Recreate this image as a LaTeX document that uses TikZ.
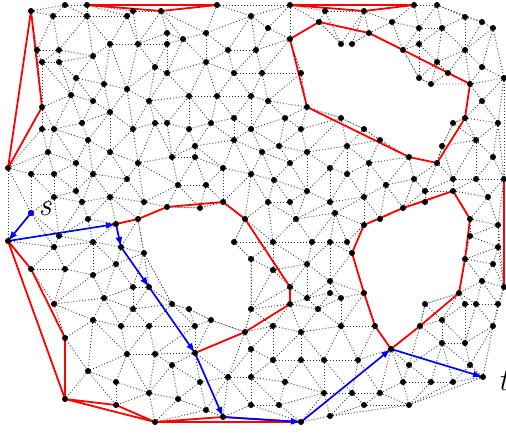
\documentclass[tikz,border=0pt]{standalone}
\usetikzlibrary{arrows.meta}
\newcount\NP \NP=0
\def\pt(#1,#2){\global\advance\NP by 1
 \expandafter\xdef\csname px\the\NP\endcsname{#1}%
 \expandafter\xdef\csname py\the\NP\endcsname{#2}}
\def\PX#1{\csname px\number#1\endcsname}
\def\PY#1{\csname py\number#1\endcsname}
% points (pixel coordinates, y downwards)
\pt(31,11)\pt(65,5)\pt(87,5)\pt(53,16)\pt(87,16)\pt(127,16)\pt(133,11)\pt(161,11)\pt(167,33)\pt(37,50)
\pt(59,50)\pt(42,62)\pt(59,62)\pt(93,56)\pt(110,44)\pt(138,44)\pt(167,44)\pt(155,67)\pt(167,73)\pt(76,78)
\pt(104,84)\pt(127,89)\pt(71,95)\pt(93,101)\pt(149,101)\pt(42,107)\pt(110,112)\pt(82,123)\pt(42,129)\pt(54,129)
\pt(133,129)\pt(155,123)\pt(167,123)\pt(88,140)\pt(48,152)\pt(110,152)\pt(76,163)\pt(138,163)\pt(8,168)\pt(31,174)
\pt(54,174)\pt(93,174)\pt(127,179)\pt(76,191)\pt(54,197)\pt(82,202)\pt(110,197)\pt(144,202)\pt(167,207)\pt(31,213)
\pt(217,5)\pt(290,5)\pt(251,16)\pt(268,28)\pt(325,11)\pt(319,22)\pt(206,33)\pt(183,39)\pt(290,39)\pt(228,50)
\pt(256,50)\pt(206,62)\pt(234,73)\pt(262,73)\pt(301,73)\pt(189,96)\pt(217,96)\pt(251,96)\pt(268,101)\pt(307,107)
\pt(234,118)\pt(285,118)\pt(211,123)\pt(189,129)\pt(251,129)\pt(301,129)\pt(234,140)\pt(195,146)\pt(279,146)\pt(172,157)
\pt(195,157)\pt(262,152)\pt(307,152)\pt(290,163)\pt(223,168)\pt(330,168)\pt(251,174)\pt(274,180)\pt(178,185)\pt(206,185)
\pt(307,191)\pt(223,202)\pt(200,208)\pt(268,202)\pt(290,202)\pt(330,202)\pt(335,213)
\pt(414,5)\pt(437,5)\pt(364,11)\pt(392,22)\pt(419,28)\pt(442,28)\pt(465,17)\pt(482,22)\pt(493,28)\pt(369,33)
\pt(341,44)\pt(352,44)\pt(419,44)\pt(403,50)\pt(465,50)\pt(437,62)\pt(448,73)\pt(482,67)\pt(419,78)\pt(431,84)
\pt(470,84)\pt(504,78)\pt(482,101)\pt(465,118)\pt(453,123)\pt(498,123)\pt(341,118)\pt(364,129)\pt(380,140)\pt(476,140)
\pt(442,146)\pt(347,146)\pt(493,157)\pt(369,163)\pt(409,157)\pt(437,163)\pt(347,174)\pt(386,185)\pt(414,179)\pt(453,179)
\pt(476,179)\pt(504,179)\pt(425,191)\pt(453,191)\pt(364,197)\pt(425,202)\pt(488,197)\pt(403,208)
\pt(116,224)\pt(88,219)\pt(138,219)\pt(8,241)\pt(59,236)\pt(93,242)\pt(54,247)\pt(121,247)\pt(144,253)\pt(31,269)
\pt(65,269)\pt(93,275)\pt(116,264)\pt(133,287)\pt(149,287)\pt(104,298)\pt(133,309)\pt(54,304)\pt(93,320)\pt(121,326)
\pt(149,326)\pt(65,338)\pt(127,354)\pt(155,354)\pt(88,371)\pt(116,382)\pt(149,393)\pt(65,399)\pt(116,405)\pt(155,422)
\pt(245,219)\pt(296,219)\pt(234,242)\pt(273,242)\pt(312,242)\pt(330,242)\pt(251,259)\pt(273,270)\pt(307,264)\pt(330,281)
\pt(290,287)\pt(307,298)\pt(330,293)\pt(290,304)\pt(172,304)\pt(189,309)\pt(251,309)\pt(318,309)\pt(211,320)\pt(195,326)
\pt(273,326)\pt(245,332)\pt(301,332)\pt(195,353)\pt(251,349)\pt(172,365)\pt(273,360)\pt(301,360)\pt(324,360)\pt(228,377)
\pt(251,377)\pt(285,382)\pt(200,382)\pt(324,393)\pt(178,399)\pt(251,405)\pt(279,405)\pt(206,410)\pt(223,417)\pt(330,416)
\pt(301,422)
\pt(364,225)\pt(380,219)\pt(470,219)\pt(498,225)\pt(470,236)\pt(347,242)\pt(498,247)\pt(352,253)\pt(465,259)\pt(493,264)
\pt(482,281)\pt(504,287)\pt(364,293)\pt(459,293)\pt(341,298)\pt(425,304)\pt(465,304)\pt(476,304)\pt(498,304)\pt(442,320)
\pt(341,326)\pt(375,326)\pt(420,326)\pt(493,326)\pt(442,343)\pt(465,343)\pt(391,349)\pt(358,360)\pt(409,365)\pt(470,365)
\pt(483,377)\pt(403,382)\pt(431,382)\pt(453,382)\pt(352,393)\pt(380,393)\pt(364,405)\pt(409,405)
% Delaunay edges (local test)
\newcount\dlI \newcount\dlJ \newcount\dlK
\newcount\dlEx \newcount\dlEy \newcount\dlDD \newcount\dlKx \newcount\dlKy
\newcount\dlA \newcount\dlB \newcount\dlT \newcount\dlTmin \newcount\dlTmax
\newif\ifdlok
\def\maxdd{6400}
\def\maxKK{48400}
\def\Iloop{\ifnum\dlI<\NP \dlJ=\dlI \advance\dlJ by 1 \Jloop \advance\dlI by 1 \expandafter\Iloop\fi}
\def\Jloop{\ifnum\dlJ>\NP\else\testedge\advance\dlJ by 1 \expandafter\Jloop\fi}
\def\Kloop{\ifnum\dlK>\NP\else\testk\advance\dlK by 1 \expandafter\Kloop\fi}
\def\testedge{%
 \dlEx=\numexpr\PX\dlJ-\PX\dlI\relax
 \dlEy=\numexpr\PY\dlJ-\PY\dlI\relax
 \dlDD=\numexpr\dlEx*\dlEx+\dlEy*\dlEy\relax
 \ifnum\dlDD>\maxdd\relax\else
   \dloktrue \dlTmin=2000000000 \dlTmax=-2000000000
   \dlK=1 \Kloop
   \ifdlok\ifnum\dlTmax>\dlTmin\dlokfalse\fi\fi
   \ifdlok\drawedge\fi
 \fi}
\def\testk{%
 \ifdlok
  \ifnum\dlK=\dlI\else\ifnum\dlK=\dlJ\else
   \dlKx=\numexpr2*\PX\dlK-\PX\dlI-\PX\dlJ\relax
   \dlKy=\numexpr2*\PY\dlK-\PY\dlI-\PY\dlJ\relax
   \dlA=\numexpr\dlKx*\dlKx+\dlKy*\dlKy\relax
   \ifnum\dlA<\maxKK\relax
     \dlB=\numexpr\dlKy*\dlEx-\dlKx*\dlEy\relax
     \ifnum\dlB=0\relax
       \ifnum\dlA<\dlDD\dlokfalse\fi
     \else
       \dlT=\numexpr(\dlA-\dlDD)*1000/\dlB\relax
       \ifnum\dlB>0\relax
         \ifnum\dlT<\dlTmin\dlTmin=\dlT\fi
       \else
         \ifnum\dlT>\dlTmax\dlTmax=\dlT\fi
       \fi
     \fi
   \fi
  \fi\fi
 \fi}
\def\drawedge{\edef\dltmp{\noexpand\draw[mesh] (\PX\dlI,\PY\dlI) -- (\PX\dlJ,\PY\dlJ);}\dltmp}
\tikzset{
 mesh/.style={draw=black!80, line width=0.9pt, dash pattern=on 0.9pt off 2.1pt},
 hole/.style={fill=white, draw=none},
 holeb/.style={mesh, fill=white},
 redl/.style={draw=red, line width=1.8pt, line join=round},
 bluel/.style={draw=blue, fill=blue, line width=1.7pt, -{Latex[length=10pt,width=7pt]}},
 dot/.style={fill=black},
 lab/.style={font=\fontsize{32}{38}\selectfont\itshape, inner sep=0pt}
}
\begin{document}
\begin{tikzpicture}[x=1pt,y=-1pt]
\useasboundingbox (0,0) rectangle (506,432);
% mesh
\dlI=1 \Iloop
\draw[mesh] (504,78) -- (504,179);
% empty regions
\path[hole] (31,11) -- (42,107) -- (8,168) -- cycle;
\path[hole] (87,5) -- (217,5) -- (161,11) -- cycle;
\path[hole] (290,5) -- (414,5) -- (364,11) -- cycle;
\path[hole] (8,241) -- (31,269) -- (65,338) -- (65,399) -- cycle;
\path[hole] (65,399) -- (116,405) -- (155,422) -- cycle;
\path[hole] (155,422) -- (223,417) -- (301,422) -- cycle;
\path[holeb] (290,39) -- (319,22) -- (341,44) -- (352,44) -- (369,33) -- (403,50) -- (419,78) -- (431,84) -- (470,84) -- (465,118) -- (453,123) -- (442,146) -- (437,163) -- (409,157) -- (380,140) -- (364,129) -- (341,118) -- (307,107) -- (301,73) -- cycle;
\path[holeb] (138,219) -- (167,207) -- (200,208) -- (223,202) -- (245,219) -- (234,242) -- (251,259) -- (251,309) -- (245,332) -- (211,320) -- (189,309) -- (172,304) -- (144,253) -- cycle;
\path[holeb] (453,191) -- (425,202) -- (403,208) -- (380,219) -- (364,225) -- (352,253) -- (364,293) -- (375,326) -- (391,349) -- (420,326) -- (425,304) -- (459,293) -- (465,259) -- (470,219) -- cycle;
% red boundaries
\draw[redl] (31,11) -- (42,107) -- (8,168) -- cycle;
\draw[redl] (87,5) -- (217,5) -- (161,11) -- cycle;
\draw[redl] (290,5) -- (414,5) -- (364,11) -- cycle;
\draw[redl] (290,39) -- (319,22) -- (369,33) -- (403,50) -- (470,84) -- (465,118) -- (437,163) -- (409,157) -- (307,107) -- cycle;
\draw[redl] (116,224) -- (138,219) -- (167,207) -- (223,202) -- (245,219) -- (290,287) -- (290,304) -- (245,332) -- (195,353);
\draw[redl] (453,191) -- (403,208) -- (364,225) -- (352,253) -- (364,293) -- (375,326) -- (391,349) -- (420,326) -- (459,293) -- (465,259) -- (470,219) -- cycle;
\draw[redl] (8,241) -- (31,269) -- (65,338) -- (65,399) -- cycle;
\draw[redl] (65,399) -- (116,405) -- (155,422) -- cycle;
\draw[redl] (155,422) -- (223,417) -- (301,422) -- cycle;
\draw[redl] (504,179) -- (504,287);
% blue path
\coordinate (b0) at (31,213);
\coordinate (b1) at (8,241);
\coordinate (b2) at (116,224);
\coordinate (b3) at (121,247);
\coordinate (b4) at (149,287);
\coordinate (b5) at (195,353);
\coordinate (b6) at (223,417);
\coordinate (b7) at (301,422);
\coordinate (b8) at (391,349);
\coordinate (b9) at (483,377);
\draw[bluel] (b0) -- (b1);
\draw[bluel] (b1) -- (b2);
\draw[bluel] (b2) -- (b3);
\draw[bluel] (b3) -- (b4);
\draw[bluel] (b4) -- (b5);
\draw[bluel] (b5) -- (b6);
\draw[bluel] (b6) -- (b7);
\draw[bluel] (b7) -- (b8);
\draw[bluel] (b8) -- (b9);
% dots
\foreach \n in {1,...,\NP}{\fill[dot] (\PX\n,\PY\n) circle[radius=3pt];}
\fill[blue] (b0) circle[radius=3pt];
% labels
\node[lab] (s) at (45,209) {s};
\node[lab] (t) at (503,381) {t};
\end{tikzpicture}
\end{document}
